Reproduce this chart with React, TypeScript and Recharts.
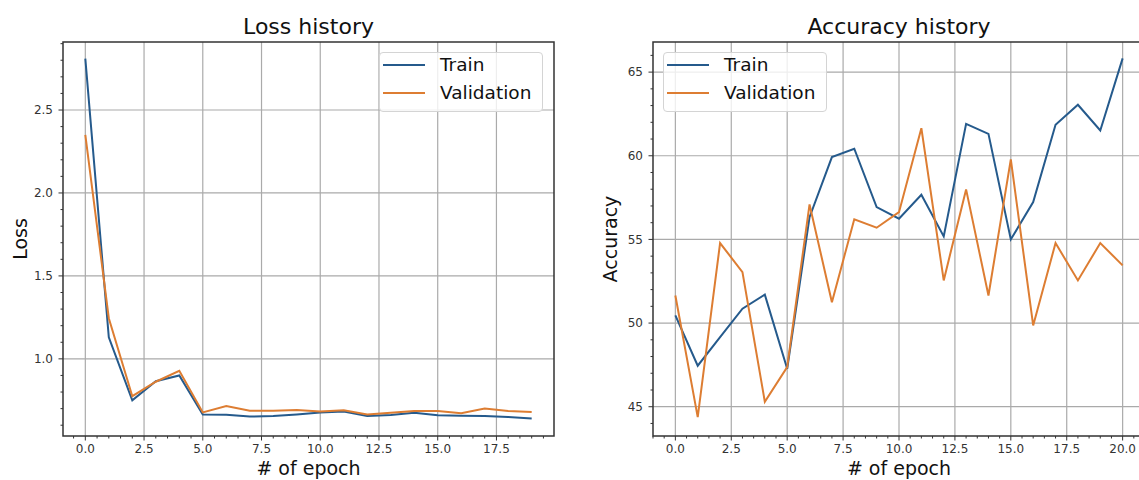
import React from "react"
import { LineChart, Line, XAxis, YAxis, CartesianGrid, Legend, ReferenceArea, Label } from "recharts"

// loss history (epochs 0..19)
const lossEpochs = [0, 1, 2, 3, 4, 5, 6, 7, 8, 9, 10, 11, 12, 13, 14, 15, 16, 17, 18, 19]
const lossTrain = [2.81, 1.13, 0.75, 0.865, 0.9, 0.665, 0.663, 0.652, 0.656, 0.665, 0.677, 0.683, 0.656, 0.662, 0.675, 0.66, 0.657, 0.655, 0.65, 0.64]
const lossVal = [2.35, 1.245, 0.775, 0.862, 0.928, 0.677, 0.715, 0.687, 0.687, 0.692, 0.683, 0.69, 0.665, 0.675, 0.685, 0.685, 0.672, 0.7, 0.685, 0.68]
const lossXTicks = [0, 2.5, 5, 7.5, 10, 12.5, 15, 17.5]
const lossYTicks = [1.0, 1.5, 2.0, 2.5]

// accuracy history (epochs 0..20)
const accEpochs = [0, 1, 2, 3, 4, 5, 6, 7, 8, 9, 10, 11, 12, 13, 14, 15, 16, 17, 18, 19, 20]
const accTrain = [50.46, 47.45, 49.16, 50.86, 51.7, 47.27, 56.33, 59.92, 60.42, 56.93, 56.24, 57.67, 55.18, 61.91, 61.31, 55.0, 57.23, 61.85, 63.05, 61.51, 65.82]
const accVal = [51.65, 44.38, 54.78, 53.05, 45.3, 47.37, 57.09, 51.25, 56.2, 55.7, 56.63, 61.65, 52.55, 57.99, 51.65, 59.78, 49.86, 54.78, 52.55, 54.78, 53.45]
const accXTicks = [0, 2.5, 5, 7.5, 10, 12.5, 15, 17.5, 20]
const accYTicks = [45, 50, 55, 60, 65]

const FONT = "'DejaVu Sans', sans-serif"
const BLUE = "#255a8c"
const ORANGE = "#dd7d32"

// major ticks plus matplotlib-style minor ticks in between
function withMinor(lo: number, hi: number, step: number, majors: number[]) {
  const out: number[] = [...majors]
  for (let v = Math.ceil(lo / step) * step; v <= hi + 1e-9; v += step) {
    const r = Math.round(v * 1000) / 1000
    if (!majors.some((m) => Math.abs(m - r) < 1e-6)) out.push(r)
  }
  return out.sort((a, b) => a - b)
}

const isMajor = (v: number, majors: number[]) => majors.some((m) => Math.abs(m - v) < 1e-6)

const XTick = (props: any) => {
  const { x, y, payload, majors } = props
  const major = isMajor(payload.value, majors)
  return (
    <g>
      <line x1={x} x2={x} y1={y} y2={y + (major ? 4.5 : 2.5)} stroke="#333" strokeWidth={1} />
      {major && (
        <text x={x} y={y + 8} dy="0.71em" textAnchor="middle" fontSize={12} fontFamily={FONT} fill="#333">
          {payload.value.toFixed(1)}
        </text>
      )}
    </g>
  )
}

const YTick = (props: any) => {
  const { x, y, payload, majors, format } = props
  const major = isMajor(payload.value, majors)
  return (
    <g>
      <line x1={x - (major ? 4.5 : 2.5)} x2={x} y1={y} y2={y} stroke="#333" strokeWidth={1} />
      {major && (
        <text x={x - 10} y={y} dy="0.355em" textAnchor="end" fontSize={12} fontFamily={FONT} fill="#333">
          {format(payload.value)}
        </text>
      )}
    </g>
  )
}

const RotatedLabel = (props: any) => {
  const vb = props.viewBox || {}
  const cy = vb.height ? vb.y + vb.height / 2 : 239
  const x = props.centerX
  return (
    <text x={x} y={cy} transform={`rotate(-90 ${x} ${cy})`} textAnchor="middle" dominantBaseline="central"
      fontSize={19} fontFamily={FONT} fill="#111">
      {props.value}
    </text>
  )
}

const renderLegend = (props: any) => (
  <div style={{ width: 164, height: 60, boxSizing: "border-box", border: "1px solid #d4d4d4", borderRadius: 4,
    background: "rgba(255,255,255,0.8)", position: "relative", fontFamily: FONT, fontSize: 18.5, color: "#111" }}>
    {(props.payload || []).map((p: any, i: number) => (
      <div key={i} style={{ position: "absolute", left: 3, top: i * 28 - 2, height: 28, display: "flex", alignItems: "center", whiteSpace: "nowrap" }}>
        <div style={{ width: 42, height: 0, borderTop: `2px solid ${p.color}` }} />
        <span style={{ marginLeft: 15, lineHeight: "28px" }}>{p.value}</span>
      </div>
    ))}
  </div>
)

interface HistoryProps {
  left: number
  width: number
  epochs: number[]
  train: number[]
  val: number[]
  xDomain: [number, number]
  yDomain: [number, number]
  xTicks: number[]
  yTicks: number[]
  xMinorStep: number
  yMinorStep: number
  yFormat: (v: number) => string
  yAxisWidth: number
  marginRight: number
  title: string
  yLabel: string
  yLabelX: number
  legendLeft: number
}

function HistoryChart(p: HistoryProps) {
  const data = p.epochs.map((e, i) => ({ epoch: e, train: p.train[i], val: p.val[i] }))
  const plotLeft = p.yAxisWidth
  const plotWidth = p.width - p.yAxisWidth - p.marginRight
  return (
    <div style={{ position: "absolute", left: p.left, top: 0, width: p.width, height: 480 }}>
      <div style={{ position: "absolute", left: plotLeft, width: plotWidth, top: 16, textAlign: "center",
        fontFamily: FONT, fontSize: 22, lineHeight: "22px", color: "#111", whiteSpace: "nowrap" }}>
        {p.title}
      </div>
      <LineChart width={p.width} height={480} data={data} margin={{ top: 42, right: p.marginRight, bottom: 0, left: 0 }}>
        <XAxis dataKey="epoch" type="number" domain={p.xDomain} allowDataOverflow height={44}
          ticks={withMinor(p.xDomain[0], p.xDomain[1], p.xMinorStep, p.xTicks)} interval={0}
          tick={<XTick majors={p.xTicks} />} tickSize={0} tickMargin={0} tickLine={false} axisLine={false}>
          <Label value="# of epoch" position="insideBottom" offset={5} fontSize={19} fontFamily={FONT} fill="#111" />
        </XAxis>
        <YAxis type="number" domain={p.yDomain} allowDataOverflow width={p.yAxisWidth}
          ticks={withMinor(p.yDomain[0], p.yDomain[1], p.yMinorStep, p.yTicks)} interval={0}
          tick={<YTick majors={p.yTicks} format={p.yFormat} />} tickSize={0} tickMargin={0} tickLine={false} axisLine={false}>
          <Label value={p.yLabel} content={<RotatedLabel centerX={p.yLabelX} />} />
        </YAxis>
        <CartesianGrid stroke="#aaaaaa" strokeWidth={1.2} horizontalValues={p.yTicks} verticalValues={p.xTicks} />
        <ReferenceArea x1={p.xDomain[0]} x2={p.xDomain[1]} y1={p.yDomain[0]} y2={p.yDomain[1]}
          fill="none" stroke="#333" strokeWidth={1.5} ifOverflow="visible" />
        <Line dataKey="train" name="Train" stroke={BLUE} strokeWidth={2} dot={false} isAnimationActive={false} />
        <Line dataKey="val" name="Validation" stroke={ORANGE} strokeWidth={2} dot={false} isAnimationActive={false} />
        <Legend layout="vertical" align="center" verticalAlign="middle" content={renderLegend}
          wrapperStyle={{ left: p.legendLeft, top: 52, width: 164, height: 60 }} />
      </LineChart>
    </div>
  )
}

export default function App() {
  return (
    <div style={{ position: "absolute", left: 0, top: 0, width: 1139, height: 480, overflow: "hidden", background: "#fff" }}>
      <HistoryChart left={0} width={570} epochs={lossEpochs} train={lossTrain} val={lossVal}
        xDomain={[-0.95, 19.95]} yDomain={[0.535, 2.91]} xTicks={lossXTicks} yTicks={lossYTicks}
        xMinorStep={0.5} yMinorStep={0.1} yFormat={(v: number) => v.toFixed(1)}
        yAxisWidth={63} marginRight={16} title="Loss history" yLabel="Loss" yLabelX={20} legendLeft={379} />
      <HistoryChart left={570} width={590} epochs={accEpochs} train={accTrain} val={accVal}
        xDomain={[-1, 21]} yDomain={[43.25, 66.8]} xTicks={accXTicks} yTicks={accYTicks}
        xMinorStep={0.5} yMinorStep={1} yFormat={(v: number) => String(v)}
        yAxisWidth={83} marginRight={15} title="Accuracy history" yLabel="Accuracy" yLabelX={40} legendLeft={93} />
    </div>
  )
}
